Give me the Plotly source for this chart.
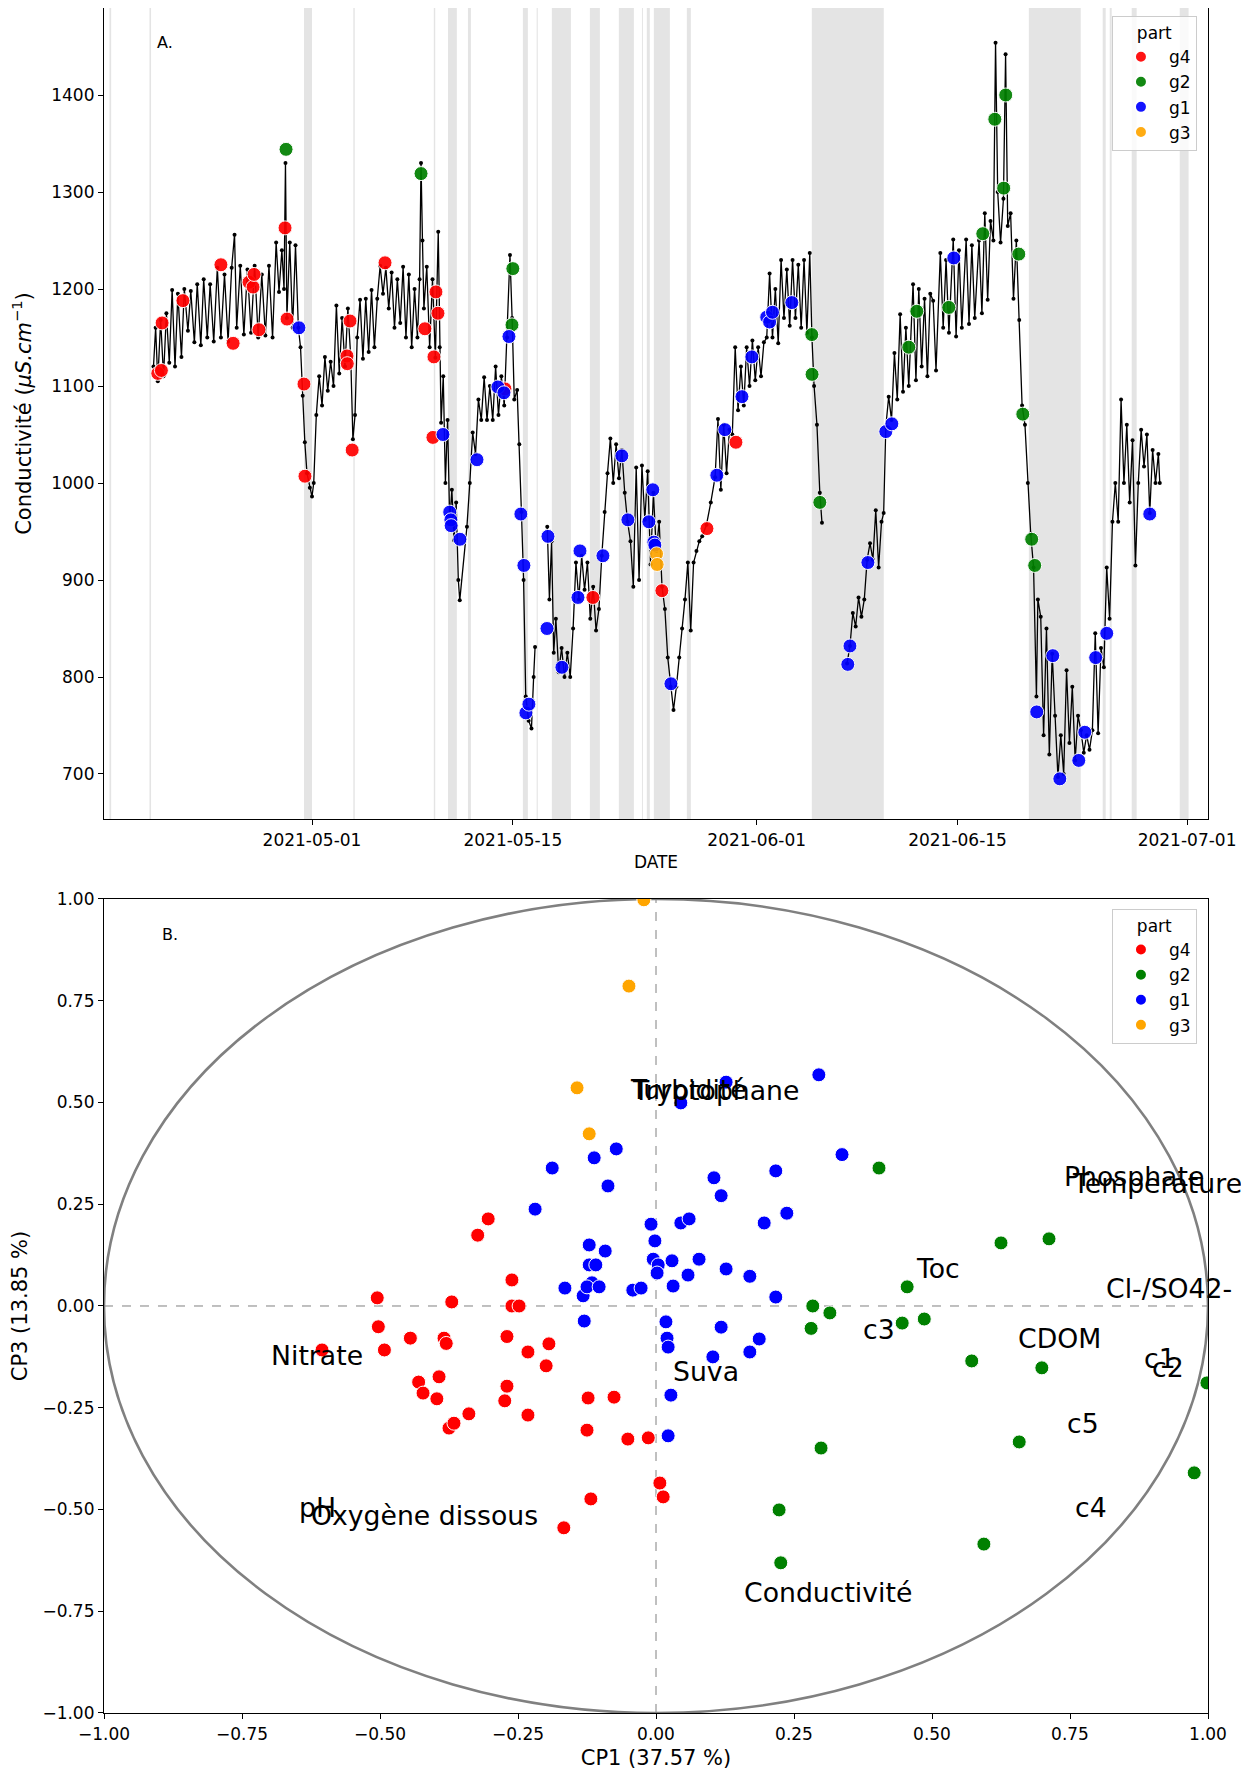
import pandas as pd
import plotly.graph_objects as go

BASE = pd.Timestamp("2021-05-01")

# ---------------- Panel A data (days counted from 2021-05-01) ----------------
cond_days = [
    -11.05, -10.9, -10.75, -10.55, -10.35, -10.15, -9.95, -9.75, -9.55, -9.35, -9.1, -8.9, -8.65, -8.45,
    -8.2, -8.0, -7.75, -7.55, -7.3, -7.1, -6.85, -6.6, -6.35, -6.1, -5.85, -5.6, -5.4, -5.25, -5.0, -4.75,
    -4.5, -4.25, -4.0, -3.75, -3.5, -3.25, -3.0, -2.75, -2.5, -2.3, -2.1, -1.95, -1.85, -1.75, -1.55,
    -1.35, -1.15, -0.95, -0.8, -0.65, -0.5, -0.35, -0.15, 0.0, 0.12, 0.3, 0.5, 0.7, 0.9, 1.1, 1.3, 1.5,
    1.7, 1.9, 2.1, 2.3, 2.5, 2.7, 2.85, 3.0, 3.15, 3.35, 3.55, 3.75, 3.95, 4.15, 4.35, 4.55, 4.75, 4.95,
    5.15, 5.35, 5.55, 5.75, 5.95, 6.15, 6.35, 6.55, 6.75, 6.95, 7.15, 7.35, 7.5, 7.6, 7.7, 7.8, 8.0, 8.2,
    8.4, 8.6, 8.8, 8.9, 9.0, 9.15, 9.3, 9.45, 9.6, 9.75, 9.9, 10.05, 10.2, 10.3, 10.8, 11.0, 11.2, 11.4,
    11.6, 11.8, 12.0, 12.2, 12.4, 12.6, 12.8, 13.0, 13.2, 13.4, 13.6, 13.8, 13.95, 14.1, 14.3, 14.45,
    14.6, 14.75, 14.9, 15.1, 15.3, 15.45, 15.55, None,
    16.4, 16.55, 16.7, 16.85, 17.0, 17.2, 17.4, 17.6, 17.8, 18.0, 18.2, 18.4, 18.6, 18.8, 19.0, 19.2,
    19.4, 19.6, 19.8, 20.0, 20.2, 20.4, 20.6, 20.8, 21.0, 21.2, 21.4, 21.6, 21.8, 22.0, 22.2, 22.4, 22.6,
    22.8, 23.0, 23.2, 23.4, 23.6, 23.8, 24.0, 24.2, 24.4, 24.6, 24.8, 25.0, 25.2, 25.4, 25.6, 25.8, 26.0,
    26.2, 26.4, 26.6, 26.8, 27.0, 27.2, 27.5, 27.8, 28.1, 28.3, 28.5, 28.7, 28.9, 29.1, 29.3, 29.5, 29.7,
    29.9, 30.1, 30.3, 30.5, 30.7, 30.9, 31.1, 31.3, 31.5, 31.7, 31.9, 32.1, 32.3, 32.5, 32.7, 32.9, 33.1,
    33.3, 33.5, 33.7, 33.9, 34.1, 34.3, 34.5, 34.7, 34.85, 35.0, 35.2, 35.4, 35.55, None,
    37.3, 37.5, 37.7, 37.9, 38.1, 38.3, 38.5, 38.7, 38.9, 39.1, 39.3, 39.5, 39.7, 39.85, 40.0, 40.2,
    40.4, 40.6, 40.8, 41.0, 41.2, 41.4, 41.6, 41.9, 42.1, 42.3, 42.5, 42.7, 42.9, 43.1, 43.3, 43.5, 43.8,
    44.0, 44.2, 44.4, 44.7, 44.9, 45.1, 45.3, 45.6, 45.8, 46.0, 46.2, 46.5, 46.7, 46.9, 47.1, 47.3, 47.5,
    47.65, 47.8, 48.0, 48.2, 48.35, 48.5, 48.7, 48.9, 49.1, 49.3, 49.5, 49.7, 49.9, 50.1, 50.3, 50.5,
    50.6, 50.8, 51.0, 51.2, 51.4, 51.6, 51.8, 52.0, 52.2, 52.4, 52.6, 52.8, 53.0, 53.2, 53.4, 53.6, 53.8,
    54.0, 54.2, 54.4, 54.6, 54.8, 55.0, 55.2, 55.4, 55.6, 55.8, 56.0, 56.2, 56.4, 56.6, 56.8, 57.0, 57.2,
    57.4, 57.6, 57.8, 58.0, 58.2, 58.4, 58.6, 58.8, 59.0, 59.1,
]
cond_vals = [
    1120, 1160, 1105, 1168, 1110, 1175, 1124, 1199, 1120, 1195, 1130, 1200, 1157, 1198,
    1145, 1205, 1142, 1210, 1150, 1205, 1146, 1222, 1150, 1215, 1146, 1222, 1256, 1160, 1224, 1153,
    1220, 1155, 1224, 1150, 1215, 1152, 1224, 1150, 1248, 1197, 1240, 1200, 1330, 1170, 1248,
    1160, 1245, 1160, 1140, 1090, 1042, 1010, 995, 986, 1000, 1070, 1110, 1080, 1130, 1095, 1125, 1100,
    1183, 1113, 1170, 1120, 1180, 1130, 1045, 1070, 1150, 1189, 1128, 1190, 1135, 1199, 1140, 1190, 1224, 1195,
    1222, 1180, 1217, 1160, 1210, 1165, 1223, 1150, 1215, 1140, 1200, 1150, 1210, 1330, 1250, 1180, 1223, 1140,
    1210, 1129, 1259, 1140, 1062, 1110, 1000, 1065, 960, 993, 941, 980, 900, 879, 955, 1000, 1052, 1030,
    1086, 1065, 1109, 1065, 1100, 1065, 1120, 1070, 1110, 1080, 1150, 1235, 1170, 1086, 1096, 1040,
    970, 900, 780, 755, 747, 800, 831, None,
    955, 880, 940, 825, 860, 805, 830, 800, 825, 800, 850, 918, 880, 925, 890, 918,
    860, 893, 848, 870, 925, 970, 1010, 1046, 1000, 1040, 1005, 1034, 990, 960, 940, 893, 1016,
    900, 1018, 962, 1012, 916, 990, 930, 960, 893, 870, 820, 790, 766, 790, 820, 850, 880,
    918, 848, 918, 930, 940, 945, 957, 980, 1006, 1066, 993, 1060, 1010, 1055, 1050, 1140, 1075,
    1120, 1080, 1140, 1100, 1147, 1106, 1140, 1110, 1145, 1150, 1216, 1150, 1200, 1144, 1230, 1170, 1220,
    1162, 1230, 1170, 1225, 1160, 1230, 1155, 1237, 1150, 1100, 1060, 990, 959, None,
    814, 832, 866, 852, 882, 862, 880, 921, 938, 921, 972, 913, 960, 969, 1058, 1089,
    1065, 1134, 1086, 1174, 1094, 1160, 1100, 1205, 1106, 1200, 1120, 1190, 1110, 1195, 1188, 1116, 1237,
    1160, 1230, 1155, 1251, 1151, 1240, 1160, 1251, 1164, 1245, 1170, 1250, 1175, 1278, 1189, 1270, 1250,
    1454, 1300, 1248, 1293, 1442, 1265, 1278, 1190, 1250, 1168, 1080, 1060, 1000, 948, 913, 780,
    880, 862, 740, 850, 720, 824, 760, 697, 740, 700, 807, 732, 790, 714, 760, 745, 722,
    740, 725, 745, 845, 742, 830, 810, 913, 860, 960, 1000, 960, 1086, 1000, 1060, 980, 1044,
    915, 1000, 1055, 1017, 1050, 969, 1034, 1000, 1030, 1000,
]

# sample markers per group (days from 2021-05-01, conductivity)
g4_days = [-10.75, -10.5, -10.45, -9.0, -6.35, -5.5, -4.39, -4.11, -4.04, -3.7, -1.88, -1.74, -0.56, -0.49,
           2.44, 2.46, 2.65, 2.8, 5.09, 7.87, 8.64, 8.78, 8.5, 8.43, 13.45, 19.58, 24.39, 27.53, 29.55]
g4_vals = [1113, 1116, 1165, 1188, 1225, 1144, 1207, 1202, 1215, 1158, 1263, 1169, 1102, 1007,
           1131, 1123, 1167, 1034, 1227, 1159, 1197, 1175, 1130, 1047, 1097, 882, 889, 953, 1042]
g2_days = [-1.81, 7.6, 13.94, 14.0, 34.84, 34.86, 35.4, 41.6, 42.16, 44.39, 46.76, 47.6, 48.36, 48.22,
           49.27, 49.55, 50.17, 50.38]
g2_vals = [1344, 1319, 1163, 1221, 1153, 1112, 980, 1140, 1177, 1181, 1257, 1375, 1400, 1304,
           1236, 1071, 942, 915]
g1_days = [-0.91, 9.13, 9.6, 9.68, 9.7, 10.31, 11.5, 12.96, 13.38, 13.73, 14.56, 14.77, 14.91, 15.12,
           16.45, 16.38, 17.42, 18.54, 18.68, 20.28, 21.6, 22.02, 23.48, 23.76, 23.83, 23.9, 25.02,
           28.22, 28.78, 29.97, 30.66, 31.7, 31.9, 32.1, 33.45, 37.35, 37.5, 38.75, 40.0, 40.42, 44.74,
           50.52, 51.64, 52.13, 53.45, 53.87, 54.63, 55.4, 58.4]
g1_vals = [1160, 1050, 970, 962, 956, 942, 1024, 1099, 1093, 1151, 968, 915, 763, 772,
           945, 850, 810, 882, 930, 925, 1028, 962, 960, 993, 939, 936, 793,
           1008, 1055, 1089, 1130, 1171, 1166, 1176, 1186, 813, 832, 918, 1053, 1061, 1232,
           764, 822, 695, 714, 743, 820, 845, 968]
g3_days = [24.02, 24.06]
g3_vals = [927, 916]

# grey bands (days from 2021-05-01)
band_start = [-14.12, -11.33, -0.56, 2.88, 8.49, 9.48, 10.87, 14.70, 15.66, 16.72, 19.37, 21.39, 23.0,
              23.34, 23.83, 26.13, 34.84, 49.97, 55.12, 55.61, 57.14, 60.49]
band_end = [-14.0, -11.22, 0.0, 2.98, 8.59, 10.10, 11.08, 15.05, 15.74, 18.05, 20.07, 22.44, 23.07,
            23.55, 24.95, 26.41, 39.86, 53.59, 55.33, 55.75, 57.49, 61.11]

date_ticks = ["2021-05-01", "2021-05-15", "2021-06-01", "2021-06-15", "2021-07-01"]
cond_ticks = [700, 800, 900, 1000, 1100, 1200, 1300, 1400]

# ---------------- Panel B data (PCA) ----------------
g4_cp1 = [-0.304, -0.323, -0.261, -0.370, -0.261, -0.248, -0.505, -0.503, -0.445, -0.384, -0.380, -0.492,
          -0.605, -0.270, -0.232, -0.194, -0.199, -0.430, -0.422, -0.393, -0.397, -0.270, -0.274, -0.339,
          -0.375, -0.366, -0.232, -0.123, -0.076, -0.125, -0.051, -0.014, -0.118, -0.167, 0.007, 0.013]
g4_cp3 = [0.214, 0.174, 0.064, 0.010, 0.0, 0.0, 0.020, -0.051, -0.079, -0.079, -0.092, -0.108,
          -0.108, -0.075, -0.113, -0.093, -0.147, -0.187, -0.214, -0.174, -0.228, -0.197, -0.233, -0.265,
          -0.300, -0.288, -0.268, -0.226, -0.224, -0.305, -0.327, -0.324, -0.474, -0.545, -0.435, -0.469]
g2_cp1 = [0.404, 0.625, 0.712, 0.455, 0.284, 0.315, 0.446, 0.486, 0.281, 0.572, 0.699, 0.998, 0.658,
          0.299, 0.975, 0.223, 0.594, 0.226]
g2_cp3 = [0.339, 0.155, 0.165, 0.047, 0.0, -0.017, -0.042, -0.032, -0.055, -0.135, -0.152, -0.189, -0.334,
          -0.349, -0.410, -0.501, -0.585, -0.631]
g1_cp1 = [0.127, 0.045, 0.295, -0.072, -0.112, -0.188, -0.087, 0.105, 0.118, 0.217, -0.219, 0.196, 0.237,
          -0.009, 0.045, 0.060, -0.002, -0.121, -0.092, -0.121, -0.109, -0.005, 0.004, 0.002, 0.029, 0.078,
          0.058, 0.127, 0.170, -0.165, -0.132, -0.116, -0.125, -0.103, -0.042, -0.027, 0.031, 0.217, -0.130,
          0.018, 0.118, 0.020, 0.022, 0.187, 0.170, 0.103, 0.027, 0.022, 0.337]
g1_cp3 = [0.550, 0.499, 0.568, 0.386, 0.364, 0.339, 0.295, 0.315, 0.271, 0.332, 0.238, 0.204, 0.228,
          0.201, 0.204, 0.214, 0.160, 0.150, 0.135, 0.101, 0.101, 0.115, 0.101, 0.081, 0.111, 0.115,
          0.076, 0.091, 0.073, 0.044, 0.025, 0.057, 0.047, 0.047, 0.039, 0.044, 0.049, 0.022, -0.037,
          -0.039, -0.052, -0.079, -0.101, -0.081, -0.113, -0.125, -0.219, -0.319, 0.372]
g3_cp1 = [-0.022, -0.049, -0.143, -0.121]
g3_cp3 = [0.998, 0.786, 0.536, 0.423]

var_names = ["Turbidité", "Tryptophane", "Phosphate", "Temperature", "Toc", "Cl-/SO42-", "c3", "CDOM",
             "c1", "c2", "c5", "c4", "Suva", "Conductivité", "Nitrate", "pH", "Oxygène dissous"]
var_cp1 = [-0.050, -0.047, 0.735, 0.750, 0.467, 0.811, 0.371, 0.652, 0.880, 0.895, 0.741, 0.755, 0.027,
           0.156, -0.701, -0.651, -0.629]
var_cp3 = [0.510, 0.508, 0.297, 0.280, 0.069, 0.022, -0.079, -0.103, -0.152, -0.174, -0.312, -0.518,
           -0.184, -0.727, -0.143, -0.518, -0.536]

pca_ticks = [-1.0, -0.75, -0.5, -0.25, 0.0, 0.25, 0.5, 0.75, 1.0]

# ---------------- Figure ----------------
FONT = "DejaVu Sans"
COLORS = {"g4": "red", "g2": "green", "g1": "blue", "g3": "orange"}
PAGE_OFFSET = 8  # default <body> margin of the html page


def to_dates(days):
    return [None if d is None else BASE + pd.Timedelta(days=d) for d in days]


fig = go.Figure()

fig.add_trace(go.Scatter(
    x=to_dates(cond_days), y=cond_vals, mode="lines+markers",
    line=dict(color="black", width=1.3), marker=dict(color="black", size=4),
    connectgaps=False, showlegend=False, hoverinfo="skip", xaxis="x", yaxis="y"))

top_groups = [("g4", g4_days, g4_vals), ("g2", g2_days, g2_vals),
              ("g1", g1_days, g1_vals), ("g3", g3_days, g3_vals)]
for name, d, v in top_groups:
    fig.add_trace(go.Scatter(
        x=to_dates(d), y=v, mode="markers", name=name, legend="legend",
        marker=dict(color=COLORS[name], size=14, opacity=0.92, line=dict(color="white", width=1)),
        xaxis="x", yaxis="y"))

bottom_groups = [("g4", g4_cp1, g4_cp3), ("g2", g2_cp1, g2_cp3),
                 ("g1", g1_cp1, g1_cp3), ("g3", g3_cp1, g3_cp3)]
for name, xs, ys in bottom_groups:
    fig.add_trace(go.Scatter(
        x=xs, y=ys, mode="markers", name=name, legend="legend2",
        marker=dict(color=COLORS[name], size=14, line=dict(color="white", width=1)),
        xaxis="x2", yaxis="y2"))

shapes = []
for s, e in zip(band_start, band_end):
    shapes.append(dict(type="rect", xref="x", yref="y domain",
                       x0=BASE + pd.Timedelta(days=s), x1=BASE + pd.Timedelta(days=e),
                       y0=0, y1=1, fillcolor="rgba(0,0,0,0.105)", line=dict(width=0), layer="below"))
shapes.append(dict(type="circle", xref="x2", yref="y2", x0=-1, y0=-1, x1=1, y1=1,
                   line=dict(color="rgb(128,128,128)", width=2.6), layer="below"))
shapes.append(dict(type="line", xref="x2", yref="y2", x0=0, x1=0, y0=-1, y1=1,
                   line=dict(color="rgb(128,128,128)", width=1, dash="dash"), layer="below"))
shapes.append(dict(type="line", xref="x2", yref="y2", x0=-1, x1=1, y0=0, y1=0,
                   line=dict(color="rgb(128,128,128)", width=1, dash="dash"), layer="below"))

annotations = []
for name, cx, cy in zip(var_names, var_cp1, var_cp3):
    annotations.append(dict(x=cx, y=cy, xref="x2", yref="y2", text=name, showarrow=False,
                            xanchor="left", yanchor="middle", yshift=9,
                            font=dict(family=FONT, size=26.7, color="black")))
annotations.append(dict(x=0.046, y=0.958, xref="x domain", yref="y domain", text="A.",
                        showarrow=False, xanchor="left", yanchor="middle",
                        font=dict(family=FONT, size=16, color="black")))
annotations.append(dict(x=-0.899, y=0.913, xref="x2", yref="y2", text="B.",
                        showarrow=False, xanchor="left", yanchor="middle",
                        font=dict(family=FONT, size=16, color="black")))

axis_common = dict(showline=True, mirror=True, linecolor="black", linewidth=1.2,
                   ticks="outside", ticklen=5, tickcolor="black", tickwidth=1,
                   showgrid=False, zeroline=False,
                   tickfont=dict(family=FONT, size=17, color="black"))


def fmt(v):
    s = f"{v:.2f}"
    return s.replace("-", "\u2212")


legend_common = dict(xanchor="left", yanchor="top", bgcolor="rgba(255,255,255,0.8)",
                     bordercolor="#cccccc", borderwidth=1,
                     font=dict(family=FONT, size=17, color="black"),
                     title=dict(text="part", side="top center", font=dict(family=FONT, size=17)),
                     itemsizing="constant", itemwidth=46)

W, H = 1249, 1771
fig.update_layout(
    width=W - PAGE_OFFSET, height=H - PAGE_OFFSET,
    margin=dict(l=104 - PAGE_OFFSET, r=41, t=0, b=58, autoexpand=False),
    paper_bgcolor="white", plot_bgcolor="white",
    font=dict(family=FONT, size=17, color="black"),
    xaxis=dict(domain=[0, 1], anchor="y", type="date",
               range=[BASE + pd.Timedelta(days=-14.5), BASE + pd.Timedelta(days=62.46)],
               tickvals=date_ticks, tickformat="%Y-%m-%d",
               title=dict(text="DATE", standoff=7, font=dict(family=FONT, size=17)),
               **axis_common),
    yaxis=dict(domain=[0.52434, 1], anchor="x", range=[653.6, 1489.7], tickvals=cond_ticks,
               title=dict(text="Conductivité (<i>µS.cm</i><sup>−1</sup>)", standoff=16,
                          font=dict(family=FONT, size=21)),
               **axis_common),
    xaxis2=dict(domain=[0, 1], anchor="y2", range=[-1, 1], tickvals=pca_ticks,
                ticktext=[fmt(v) for v in pca_ticks],
                title=dict(text="CP1 (37.57 %)", standoff=7, font=dict(family=FONT, size=21)),
                **axis_common),
    yaxis2=dict(domain=[0, 0.47742], anchor="x2", range=[-1, 1], tickvals=pca_ticks,
                ticktext=[fmt(v) for v in pca_ticks],
                title=dict(text="CP3 (13.85 %)", standoff=13, font=dict(family=FONT, size=21)),
                **axis_common),
    legend=dict(x=0.913, y=0.9953, **legend_common),
    legend2=dict(x=0.913, y=0.4716, **legend_common),
    shapes=shapes,
    annotations=annotations,
    showlegend=True,
)

fig.write_html("out.html")
